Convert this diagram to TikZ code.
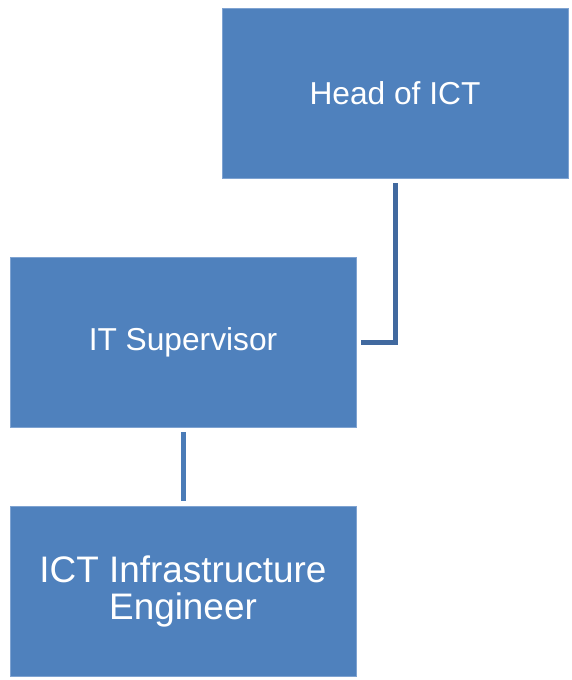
\documentclass[tikz,border=0pt]{standalone}
\usepackage{fontspec}
\setmainfont{Liberation Sans}
\usepackage{xcolor}
\definecolor{boxblue}{HTML}{4F81BD}
\definecolor{edgeblue}{HTML}{7FA3D1}
\definecolor{linkblue}{HTML}{41699F}
\definecolor{linkblue2}{HTML}{4A7BB7}

\begin{document}
\begin{tikzpicture}[x=1pt, y=-1pt,
    role/.style={draw=edgeblue, line width=0.8pt, fill=boxblue, text=white,
        minimum width=346pt, minimum height=170pt, inner sep=0pt,
        align=center, font=\fontsize{31.7}{36}\selectfont},
    link/.style={draw=linkblue, line width=5pt, line join=miter}]
    \useasboundingbox (0, 0) rectangle (572, 680);

    \node[role] at (395, 93) (head) {Head of ICT};
    \node[role] at (183, 342) (sup) {IT Supervisor};
    \node[role, font=\fontsize{36.9}{37}\selectfont] at (183, 591) (eng) {ICT Infrastructure\\Engineer};

    \draw[link] ([yshift=-5pt]head.south) |- ([xshift=5pt]sup.east);
    \draw[link, draw=linkblue2] ([yshift=-5pt]sup.south) -- ([yshift=5pt]eng.north);
\end{tikzpicture}
\end{document}
